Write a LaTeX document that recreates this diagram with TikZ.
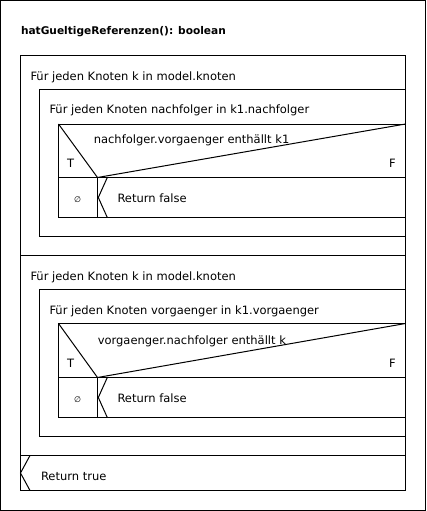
\documentclass[tikz,border=0pt]{standalone}
\usepackage{fontspec}
\setmainfont{DejaVu Sans}
\begin{document}
\begin{tikzpicture}[x=1pt,y=-1pt,line width=1pt,
  lbl/.style={anchor=base west,inner sep=0pt,font=\fontsize{11.5}{13}\selectfont},
  ttl/.style={anchor=base west,inner sep=0pt,font=\fontsize{10.6}{13}\selectfont\bfseries},
  empt/.style={anchor=center,inner sep=0pt,font=\fontsize{8}{9}\selectfont},
  blk/.style={draw=black,line width=1pt}]
\useasboundingbox (0,0) rectangle (426,511);
\draw[blk] (0.5,0.5) rectangle (425.5,510.5);
\node[ttl] (title) at (20.5,35) {hatGueltigeReferenzen(): boolean};

% ---------- first loop ----------
\draw[blk] (20.5,55.5) rectangle (405.5,255.5);
\node[lbl] (loopA) at (30,80) {Für jeden Knoten k in model.knoten};
\draw[blk] (39.5,89.5) rectangle (405.5,236.5);
\node[lbl] (loopAi) at (49,113.5) {Für jeden Knoten nachfolger in k1.nachfolger};
\draw[blk] (58.5,124) rectangle (405.5,217.5);
\draw[blk] (58.5,177.5) -- (405.5,177.5);
\draw[blk] (58.5,124) -- (97.5,177.5) -- (405.5,124);
\draw[blk] (97.5,177.5) -- (97.5,217.5);
\draw[blk] (107.3,177.5) -- (98.3,197.5) -- (107.3,217.5);
\node[lbl] (condA) at (93.3,143) {nachfolger.vorgaenger enthällt k1};
\node[lbl] (tA) at (66.5,167.5) {T};
\node[lbl] (fA) at (388.5,167.5) {F};
\node[empt] (eA) at (77.5,199.5) {∅};
\node[lbl] (retA) at (117,202) {Return false};

% ---------- second loop ----------
\draw[blk] (20.5,255.5) rectangle (405.5,455.5);
\node[lbl] (loopB) at (30,280) {Für jeden Knoten k in model.knoten};
\draw[blk] (39.5,289.5) rectangle (405.5,436.5);
\node[lbl] (loopBi) at (49,314) {Für jeden Knoten vorgaenger in k1.vorgaenger};
\draw[blk] (58.5,323.5) rectangle (405.5,417.5);
\draw[blk] (58.5,377.5) -- (405.5,377.5);
\draw[blk] (58.5,323.5) -- (97.5,377.5) -- (405.5,323.5);
\draw[blk] (97.5,377.5) -- (97.5,417.5);
\draw[blk] (107.3,377.5) -- (98.3,397.5) -- (107.3,417.5);
\node[lbl] (condB) at (97.3,344) {vorgaenger.nachfolger enthällt k};
\node[lbl] (tB) at (66.5,367) {T};
\node[lbl] (fB) at (388.5,367) {F};
\node[empt] (eB) at (77.5,399.5) {∅};
\node[lbl] (retB) at (117,402) {Return false};

% ---------- return true ----------
\draw[blk] (20.5,455.5) rectangle (405.5,490.5);
\draw[blk] (30,455.5) -- (20.5,473) -- (30,490.5);
\node[lbl] (retT) at (40.5,480) {Return true};
\end{tikzpicture}
\end{document}
